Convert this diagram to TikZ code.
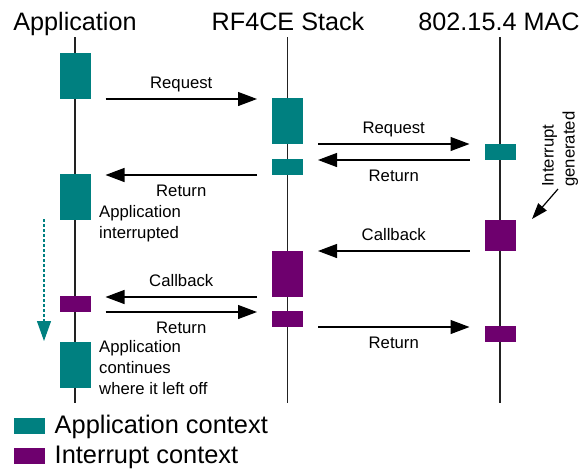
\documentclass[tikz,border=0pt]{standalone}
\usepackage{fontspec}
\setmainfont{Liberation Sans}
\usetikzlibrary{arrows.meta,calc}
\definecolor{appctx}{RGB}{0,128,128}
\definecolor{intctx}{RGB}{110,0,110}
\definecolor{lifeclr}{RGB}{34,34,34}
\begin{document}
\begin{tikzpicture}[x=1pt,y=-1pt,
  title/.style={font=\fontsize{25.2}{30}\selectfont, inner sep=0pt, anchor=base},
  lbl/.style={font=\fontsize{16.7}{21}\selectfont, inner sep=0pt, anchor=base},
  note/.style={font=\fontsize{16.7}{21}\selectfont, inner sep=0pt, anchor=base west, align=left},
  legendtext/.style={font=\fontsize{25.4}{30}\selectfont, inner sep=0pt, anchor=base west},
  life/.style={draw=lifeclr, line width=1.6pt},
  ctxbox/.style={rectangle, draw=none, inner sep=0pt, outer sep=0pt, minimum width=31pt},
  appbox/.style={ctxbox, fill=appctx},
  irqbox/.style={ctxbox, fill=intctx},
  msg/.style={line width=1.2pt, -{Triangle[length=19pt,width=14pt]}},
  above label/.style={lbl, midway, yshift=10.5pt},
  below label/.style={lbl, midway, yshift=-21pt}
]
\useasboundingbox (0,0) rectangle (582,469);

% column headings
\node[title] (hApp) at (75,30) {Application};
\node[title] (hStack) at (288,30) {RF4CE Stack};
\node[title] (hMac) at (499,30) {802.15.4 MAC};

% lifelines
\coordinate (appTop) at (75,37);   \coordinate (appBot) at (75,403);
\coordinate (stkTop) at (287.5,37); \coordinate (stkBot) at (287.5,403);
\coordinate (macTop) at (500,37);  \coordinate (macBot) at (500,403);
\draw[life] (appTop) -- (appBot);
\draw[life] (stkTop) -- (stkBot);
\draw[life] (macTop) -- (macBot);

% execution boxes
\node[appbox, minimum height=46pt] (a1) at (75,76) {};
\node[appbox, minimum height=46pt] (r1) at (287.5,121) {};
\node[appbox, minimum height=16pt] (m1) at (500,152) {};
\node[appbox, minimum height=16pt] (r2) at (287.5,167) {};
\node[appbox, minimum height=46pt] (a2) at (75,197) {};
\node[irqbox, minimum height=31pt] (m2) at (500,235.5) {};
\node[irqbox, minimum height=46pt] (rp1) at (287.5,274) {};
\node[irqbox, minimum height=16pt] (ap) at (75,304) {};
\node[irqbox, minimum height=16pt] (rp2) at (287.5,319) {};
\node[irqbox, minimum height=16pt] (mp2) at (500,334) {};
\node[appbox, minimum height=46pt] (a3) at (75,365) {};

% messages
\draw[msg] ($(a1.south east)+(15,0)$) -- ($(r1.west |- a1.south)+(-15,0)$)
  node[above label] {Request};
\draw[msg] ($(r1.south east)+(15,0)$) -- ($(m1.west |- r1.south)+(-15,0)$)
  node[above label] {Request};
\draw[msg] ($(m1.south west)+(-15,0)$) -- ($(r2.east |- m1.south)+(15,0)$)
  node[below label] {Return};
\draw[msg] ($(r2.south west)+(-15,0)$) -- ($(a2.east |- r2.south)+(15,0)$)
  node[below label] {Return};
\draw[msg] ($(m2.south west)+(-15,0)$) -- ($(rp1.east |- m2.south)+(15,0)$)
  node[above label] {Callback};
\draw[msg] ($(rp1.south west)+(-15,0)$) -- ($(ap.east |- rp1.south)+(15,0)$)
  node[above label] {Callback};
\draw[msg] ($(ap.south east)+(15,0)$) -- ($(rp2.west |- ap.south)+(-15,0)$)
  node[below label] {Return};
\draw[msg] ($(rp2.south east)+(15,0)$) -- ($(mp2.west |- rp2.south)+(-15,0)$)
  node[below label] {Return};

% interrupt source
\node[lbl, rotate=90, anchor=west, align=left] (irqNote) at (560,187) {Interrupt\\generated};
\coordinate (irqFrom) at (558,189);
\coordinate (irqTip) at (532,219);
\draw[line width=1.2pt, -{Triangle[length=16pt,width=11pt]}] (irqFrom) -- (irqTip);

% application suspended while the interrupt runs
\coordinate (suspTop) at (44,219);
\coordinate (suspEnd) at (44,341);
\draw[appctx, line width=1.1pt, dash pattern=on 3pt off 2pt,
  -{Triangle[length=20pt,width=14pt]}] (suspTop) -- (suspEnd);

% side notes (anchored on the baseline of their last line)
\node[note] (n1) at (99,238) {Application\\interrupted};
\node[note] (n2) at (99,394) {Application\\continues\\where it left off};

% legend
\node[appbox, minimum height=16pt] (kApp) at (29.5,426) {};
\node[irqbox, minimum height=16pt] (kIrq) at (29.5,455.5) {};
\node[legendtext] (tApp) at (54.5,433) {Application context};
\node[legendtext] (tIrq) at (54.5,463) {Interrupt context};
\end{tikzpicture}
\end{document}
